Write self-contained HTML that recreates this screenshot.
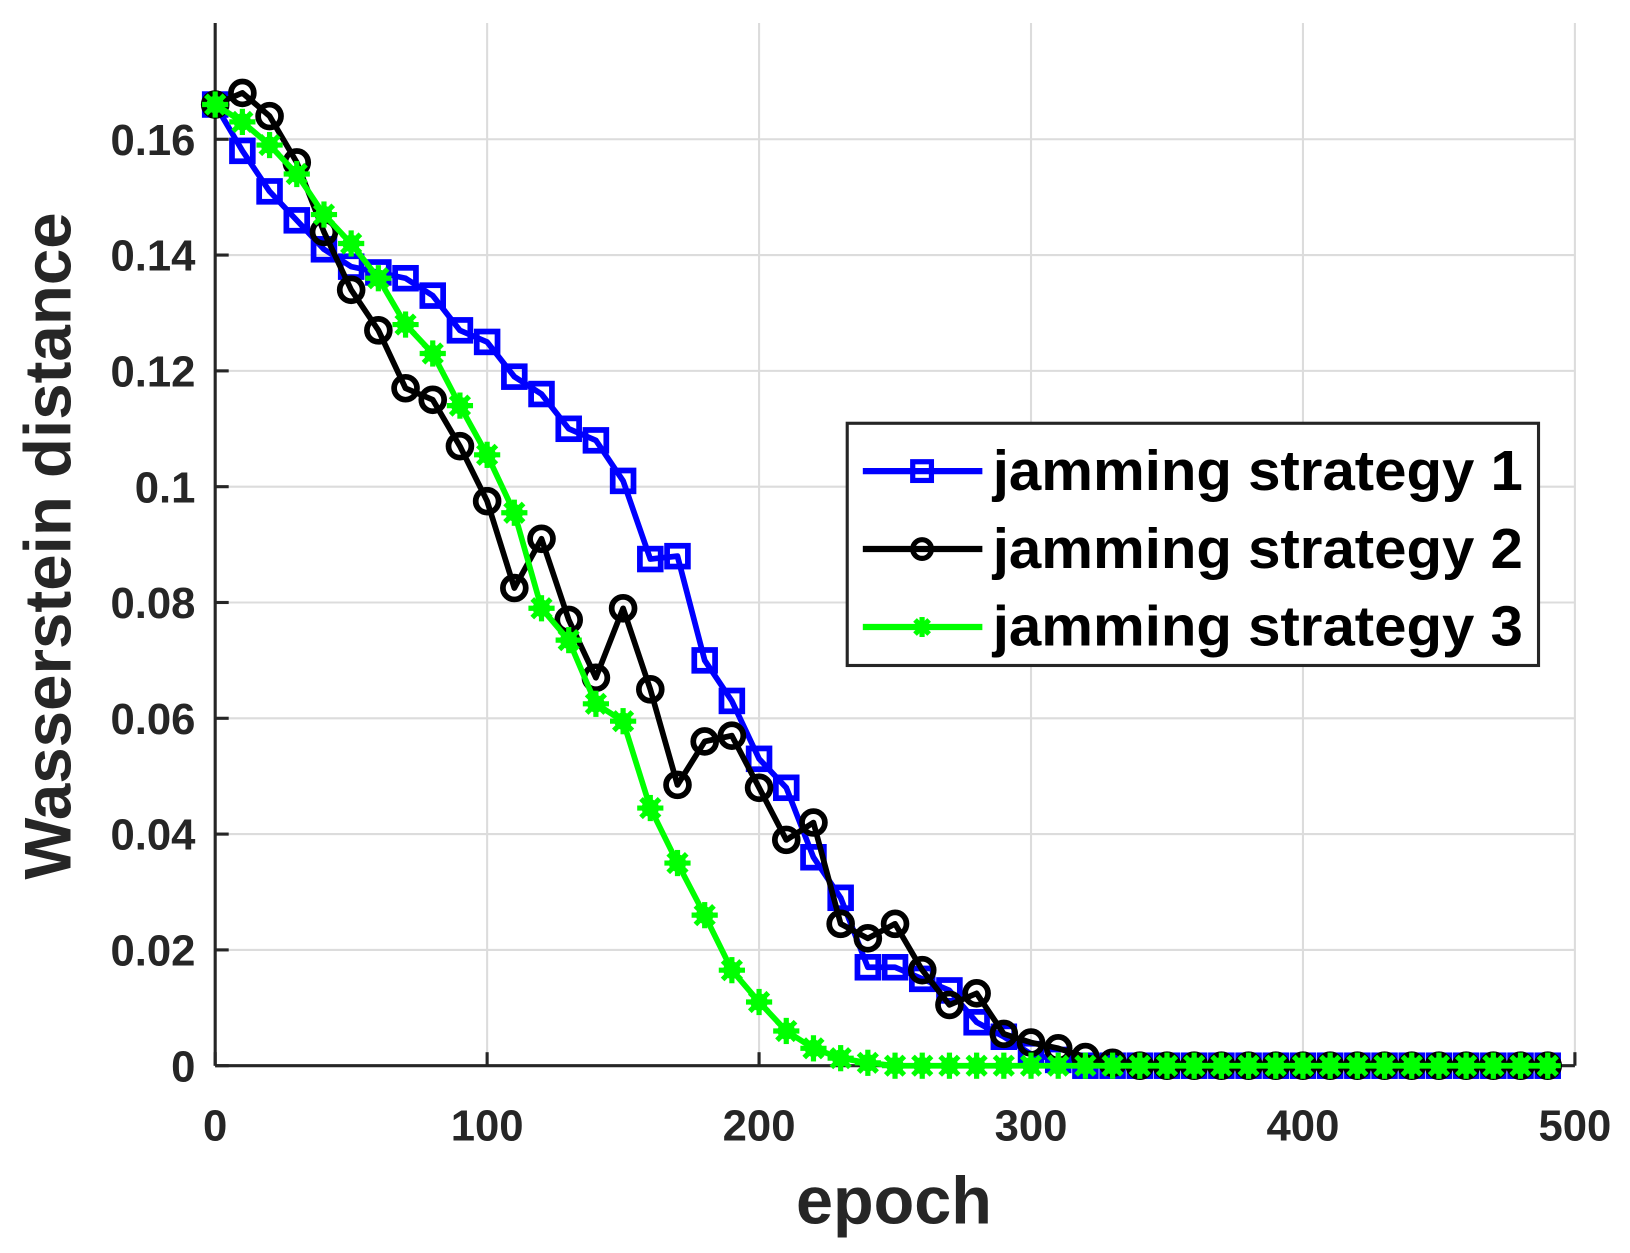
<!DOCTYPE html>
<html><head><meta charset="utf-8"><style>html,body{margin:0;padding:0;background:#fff}svg{display:block}</style></head>
<body>
<svg id="s" width="1630" height="1253" viewBox="0 0 1568 1205" xmlns="http://www.w3.org/2000/svg" font-family="Liberation Sans, Arial, sans-serif" font-weight="bold">
<rect width="1568" height="1205" fill="#fff"/>
<g id="grid" stroke="#dcdcdc" stroke-width="2"></g>
<g id="axes" stroke="#262626" stroke-width="3" fill="none">
<line x1="207" y1="22" x2="207" y2="1025"/>
<line x1="207" y1="1025" x2="1515" y2="1025"/>
</g>
<g id="ticks" fill="#262626" font-size="42"></g>
<g id="series"></g>
<text x="860" y="1177" font-size="64" fill="#262626" text-anchor="middle">epoch</text>
<text transform="translate(68,525) rotate(-90)" font-size="63" fill="#262626" text-anchor="middle">Wasserstein distance</text>
<g>
<rect x="815" y="407" width="665" height="233" fill="#fff" stroke="#262626" stroke-width="3"/>
<line x1="830" y1="453" x2="945" y2="453" stroke="#0000ff" stroke-width="6"/>
<rect x="878" y="444" width="18" height="18" fill="none" stroke="#0000ff" stroke-width="5"/>
<line x1="830" y1="528" x2="945" y2="528" stroke="#000" stroke-width="6"/>
<circle cx="887" cy="528" r="9" fill="none" stroke="#000" stroke-width="5"/>
<line x1="830" y1="603" x2="945" y2="603" stroke="#00ff00" stroke-width="6"/>
<g id="legstar"></g>
<text x="955" y="471" font-size="54" fill="#000" textLength="510" lengthAdjust="spacingAndGlyphs">jamming strategy 1</text>
<text x="955" y="546" font-size="54" fill="#000" textLength="510" lengthAdjust="spacingAndGlyphs">jamming strategy 2</text>
<text x="955" y="621" font-size="54" fill="#000" textLength="510" lengthAdjust="spacingAndGlyphs">jamming strategy 3</text>
</g>
</svg>
<script>
var NS="http://www.w3.org/2000/svg";
function el(p,t,a){var e=document.createElementNS(NS,t);for(var k in a)e.setAttribute(k,a[k]);p.appendChild(e);return e;}
function X(v){return 207+v*2.616;}function Y(v){return 1025-v*5570;}
var g=document.getElementById('grid'),tk=document.getElementById('ticks'),ax=document.getElementById('axes');
for(var i=1;i<=5;i++){el(g,'line',{x1:X(i*100),y1:22,x2:X(i*100),y2:1025});}
for(var j=1;j<=8;j++){el(g,'line',{x1:207,y1:Y(j*0.02),x2:1515,y2:Y(j*0.02)});}
for(var i=0;i<=5;i++){el(ax,'line',{x1:X(i*100),y1:1025,x2:X(i*100),y2:1012});var t=el(tk,'text',{x:X(i*100),y:1097,'text-anchor':'middle'});t.textContent=i*100;}
var yl=['0','0.02','0.04','0.06','0.08','0.1','0.12','0.14','0.16'];
for(var j=0;j<=8;j++){el(ax,'line',{x1:207,y1:Y(j*0.02),x2:220,y2:Y(j*0.02)});var t=el(tk,'text',{x:188,y:Y(j*0.02)+15,'text-anchor':'end'});t.textContent=yl[j];}
function pad(a){while(a.length<50)a.push(0);return a;}
var b=pad([.166,.158,.151,.146,.141,.138,.137,.136,.133,.127,.125,.119,.116,.110,.108,.101,.0875,.088,.070,.063,.053,.048,.036,.029,.017,.017,.015,.013,.0075,.005,.002,.001]);
var k=pad([.166,.168,.164,.156,.144,.134,.127,.117,.115,.107,.0975,.0825,.091,.077,.067,.079,.065,.0485,.056,.057,.048,.039,.042,.0245,.022,.0245,.0165,.0105,.0125,.0055,.004,.003,.0015,.0005]);
var gr=pad([.166,.163,.159,.154,.147,.142,.136,.128,.123,.114,.1055,.0955,.079,.0735,.0625,.0595,.0445,.035,.026,.0165,.011,.006,.003,.0013,.0005]);
var S=document.getElementById('series');
function line(d,c){var p='';for(var i=0;i<50;i++)p+=(i?'L':'M')+X(i*10).toFixed(1)+' '+Y(d[i]).toFixed(1);el(S,'path',{d:p,fill:'none',stroke:c,'stroke-width':5.5,'stroke-linejoin':'round'});}
function star(p,x,y,s){el(p,'circle',{cx:x,cy:y,r:8*s,fill:'#00ff00'});for(var a=0;a<4;a++){var an=a*Math.PI/4;el(p,'line',{x1:x-12*s*Math.cos(an),y1:y-12*s*Math.sin(an),x2:x+12*s*Math.cos(an),y2:y+12*s*Math.sin(an),stroke:'#00ff00','stroke-width':5});}}
line(b,'#0000ff');for(var i=0;i<50;i++)el(S,'rect',{x:X(i*10)-10,y:Y(b[i])-10,width:20,height:20,fill:'none',stroke:'#0000ff','stroke-width':5.5});
line(k,'#000');for(var i=0;i<50;i++)el(S,'circle',{cx:X(i*10),cy:Y(k[i]),r:11,fill:'none',stroke:'#000','stroke-width':5.5});
line(gr,'#00ff00');for(var i=0;i<50;i++)star(S,X(i*10),Y(gr[i]),1.05);
star(document.getElementById('legstar'),887,603,0.8);
</script>
</body></html>
